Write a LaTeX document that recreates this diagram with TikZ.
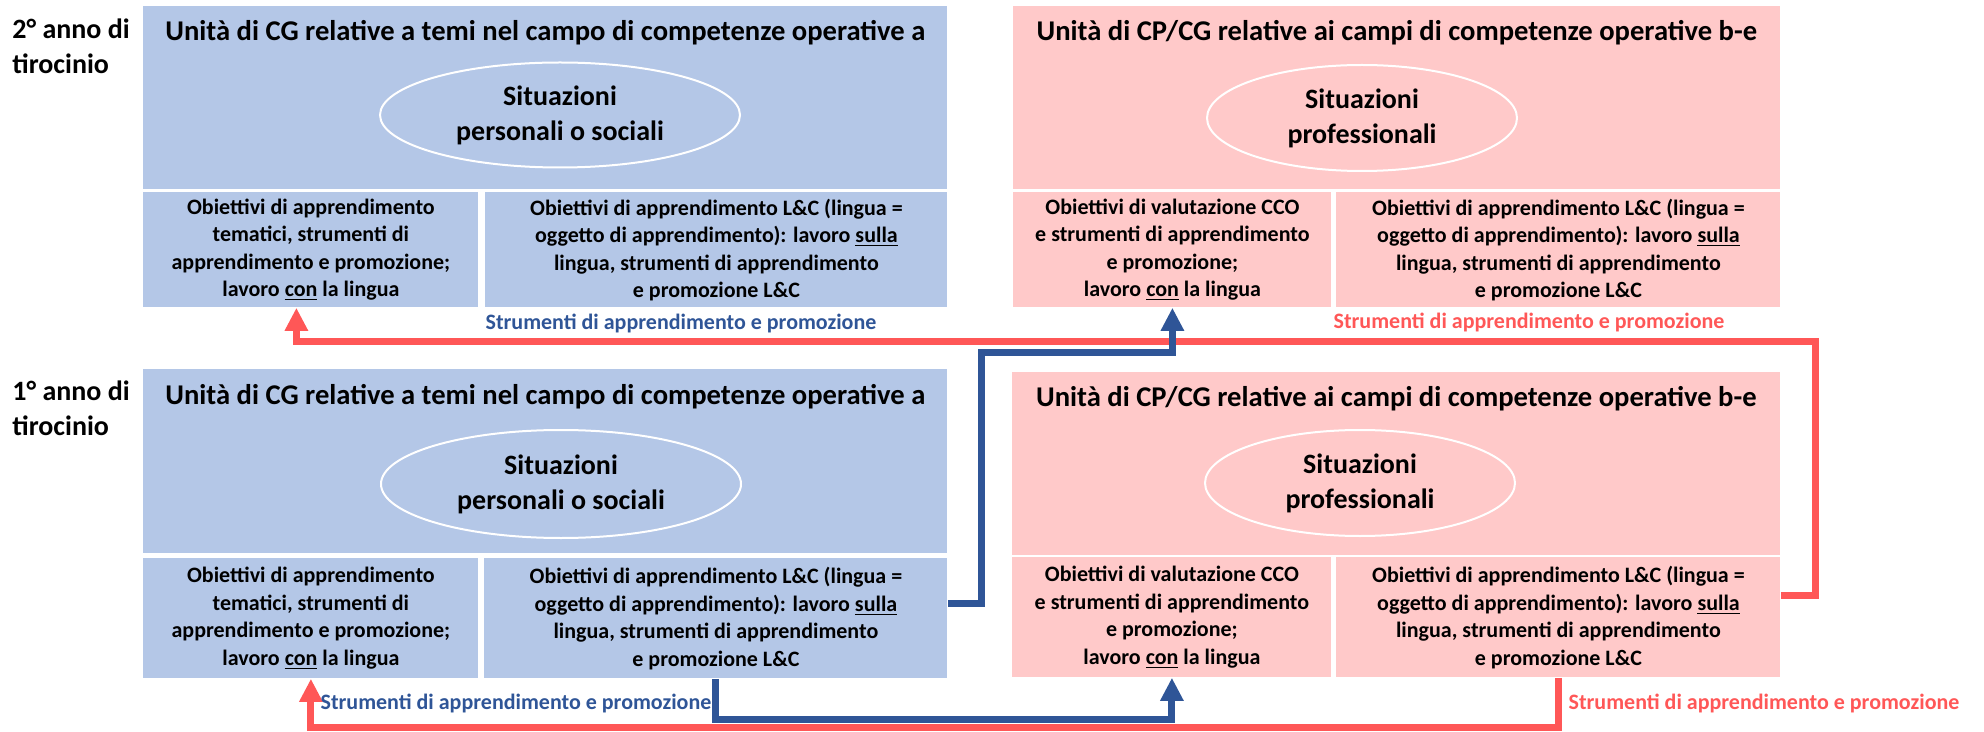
\documentclass[tikz,border=0pt]{standalone}
\usepackage{fontspec}
\setmainfont{Carlito}
\usepackage{tikz}
\usetikzlibrary{arrows.meta, shapes.geometric, positioning}

\definecolor{boxblue}{HTML}{B4C7E7}
\definecolor{boxpink}{HTML}{FFC9C9}
\definecolor{linkblue}{HTML}{2F5597}
\definecolor{linkred}{HTML}{FF5757}

\begin{document}
\begin{tikzpicture}[x=0.5pt, y=-0.5pt, >={Triangle[width=11pt,length=11.5pt]},
        secbox/.style={anchor=north west, inner sep=0pt, minimum height=91.5pt},
        cellbox/.style={anchor=north west, inner sep=0pt, align=center, font=\fontsize{11}{13.75}\selectfont\bfseries},
        titletext/.style={inner sep=0pt, font=\fontsize{14.3}{17}\selectfont\bfseries},
        sitbox/.style={ellipse, draw=white, line width=1pt, inner sep=0pt, align=center, font=\fontsize{14}{17.5}\selectfont\bfseries},
        yearlabel/.style={anchor=west, align=left, inner sep=0pt, font=\fontsize{14}{17.5}\selectfont\bfseries},
        linklabel/.style={inner sep=0pt, font=\fontsize{11}{13}\selectfont\bfseries},
        bluelink/.style={->, draw=linkblue, line width=3.5pt},
        redlink/.style={->, draw=linkred, line width=3.5pt}]
        % --- 定義: サイズ ---
        \def\blueW{402pt}
        \def\pinkW{383.5pt}
        \def\cellH{57.5pt}
        \def\cellHlow{60pt}

        \useasboundingbox (0,0) rectangle (1984,732);

        % --- 年次ラベル ---
        \node[yearlabel] (y2lab) at (12,46) {2° anno di\\tirocinio};
        \node[yearlabel] (y1lab) at (12,408) {1° anno di\\tirocinio};

        % --- 2年目 (上段) ---
        \node[secbox, fill=boxblue, minimum width=\blueW] (b2sec) at (143,6) {};
        \node[titletext, yshift=-13.5pt] (b2tit) at (b2sec.north) {Unità di CG relative a temi nel campo di competenze operative a};
        \node[sitbox, minimum width=180pt, minimum height=52.5pt] (b2sit) at (560,115) {Situazioni\\personali o sociali};
        \node[cellbox, fill=boxblue, minimum width=167.5pt, minimum height=\cellH] (b2l) at (143,192)
            {Obiettivi di apprendimento\\tematici, strumenti di\\apprendimento e promozione;\\lavoro \underline{con} la lingua};
        \node[cellbox, fill=boxblue, minimum width=231pt, minimum height=\cellH] (b2r) at (485,192)
            {Obiettivi di apprendimento L\&C (lingua =\\oggetto di apprendimento): lavoro \underline{sulla}\\lingua, strumenti di apprendimento\\e promozione L\&C};

        \node[secbox, fill=boxpink, minimum width=\pinkW] (p2sec) at (1013,6) {};
        \node[titletext, yshift=-13.5pt] (p2tit) at (p2sec.north) {Unità di CP/CG relative ai campi di competenze operative b-e};
        \node[sitbox, minimum width=155pt, minimum height=53pt] (p2sit) at (1362,118) {Situazioni\\professionali};
        \node[cellbox, fill=boxpink, minimum width=159pt, minimum height=\cellH] (p2l) at (1013,192)
            {Obiettivi di valutazione CCO\\e strumenti di apprendimento\\e promozione;\\lavoro \underline{con} la lingua};
        \node[cellbox, fill=boxpink, minimum width=222pt, minimum height=\cellH] (p2r) at (1336,192)
            {Obiettivi di apprendimento L\&C (lingua =\\oggetto di apprendimento): lavoro \underline{sulla}\\lingua, strumenti di apprendimento\\e promozione L\&C};

        % --- 1年目 (下段) ---
        \node[secbox, fill=boxblue, minimum width=\blueW, minimum height=92pt] (b1sec) at (143,369) {};
        \node[titletext, yshift=-14pt] (b1tit) at (b1sec.north) {Unità di CG relative a temi nel campo di competenze operative a};
        \node[sitbox, minimum width=180pt, minimum height=54pt] (b1sit) at (561,484) {Situazioni\\personali o sociali};
        \node[cellbox, fill=boxblue, minimum width=167.5pt, minimum height=\cellHlow] (b1l) at (143,558)
            {Obiettivi di apprendimento\\tematici, strumenti di\\apprendimento e promozione;\\lavoro \underline{con} la lingua};
        \node[cellbox, fill=boxblue, minimum width=231.5pt, minimum height=\cellHlow] (b1r) at (484,558)
            {Obiettivi di apprendimento L\&C (lingua =\\oggetto di apprendimento): lavoro \underline{sulla}\\lingua, strumenti di apprendimento\\e promozione L\&C};

        \node[secbox, fill=boxpink, minimum width=384pt] (p1sec) at (1012,372) {};
        \node[titletext, yshift=-13.5pt] (p1tit) at (p1sec.north) {Unità di CP/CG relative ai campi di competenze operative b-e};
        \node[sitbox, minimum width=155pt, minimum height=53pt] (p1sit) at (1360,483) {Situazioni\\professionali};
        \node[cellbox, fill=boxpink, minimum width=159.5pt, minimum height=\cellHlow] (p1l) at (1012,557)
            {Obiettivi di valutazione CCO\\e strumenti di apprendimento\\e promozione;\\lavoro \underline{con} la lingua};
        \node[cellbox, fill=boxpink, minimum width=222pt, minimum height=\cellHlow] (p1r) at (1336,557)
            {Obiettivi di apprendimento L\&C (lingua =\\oggetto di apprendimento): lavoro \underline{sulla}\\lingua, strumenti di apprendimento\\e promozione L\&C};

        % --- 矢印 ---
        \draw[redlink] ([yshift=11pt]p1r.east) -- ++(35,0) |- ([xshift=-7.25pt,yshift=-17pt]b2l.south) -- ([xshift=-7.25pt]b2l.south);
        \draw[redlink] (p1r.south) -- ++(0,50) -| (b1l.south);
        \draw[bluelink] ([yshift=7.5pt]b1r.east) -- ++(34,0) |- ([yshift=-22.5pt]p2l.south) -- (p2l.south);
        \draw[bluelink] (b1r.south) -- ++(0,41) -| (p1l.south);

        % --- 矢印ラベル ---
        \node[linklabel, text=linkblue] (lab2b) at (681,323) {Strumenti di apprendimento e promozione};
        \node[linklabel, text=linkred] (lab2r) at (1529,322) {Strumenti di apprendimento e promozione};
        \node[linklabel, text=linkblue] (lab1b) at (516,703) {Strumenti di apprendimento e promozione};
        \node[linklabel, text=linkred] (lab1r) at (1764,703) {Strumenti di apprendimento e promozione};

    \end{tikzpicture}
\end{document}
